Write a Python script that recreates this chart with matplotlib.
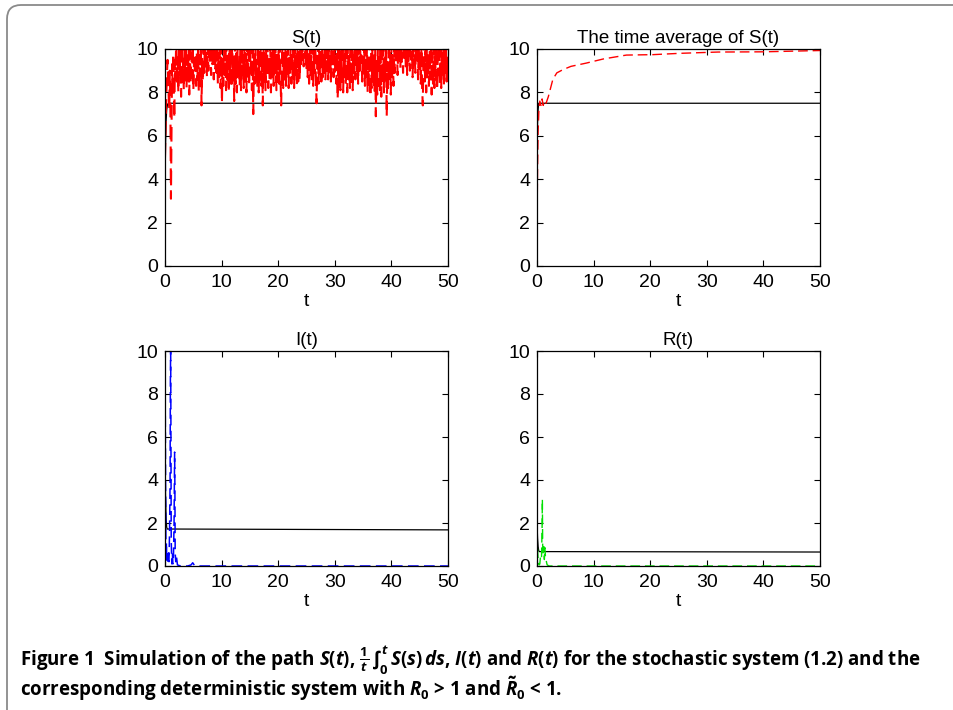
import numpy as np
import matplotlib
matplotlib.use('Agg')
import matplotlib.pyplot as plt
from matplotlib.patches import FancyBboxPatch
from matplotlib.transforms import IdentityTransform

plt.rcParams['font.family'] = ['Liberation Sans', 'DejaVu Sans']
plt.rcParams['mathtext.fontset'] = 'custom'
plt.rcParams['mathtext.rm'] = 'Open Sans:bold'
plt.rcParams['mathtext.it'] = 'Open Sans:italic:bold'
plt.rcParams['mathtext.bf'] = 'Open Sans:bold'

# ---- S(t): stochastic path, first two time units read point by point
s_t_early = [0, 0.05, 0.15, 0.3, 0.45, 0.6, 0.75, 0.85, 0.95, 1.05, 1.15, 1.25,
             1.35, 1.45, 1.55, 1.65, 1.75, 1.85, 1.95]
s_early = [5.0, 5.8, 7.0, 8.6, 9.5, 8.2, 7.2, 9.0, 7.5, 3.1, 6.0, 9.3,
           8.4, 9.8, 8.0, 6.8, 9.5, 8.6, 10.0]
# rest of the path (t = 2 .. 50)
s_rest = [
    10.2, 8.3, 9.6, 8.0, 10.1, 8.8, 9.9, 7.8, 10.3, 8.5, 9.4, 8.1, 10.0, 8.9, 10.2, 8.2, 9.7, 8.6, 10.1, 7.9,
    10.0, 8.4, 9.8, 8.7, 10.2, 8.1, 9.5, 8.9, 10.3, 8.3, 9.9, 8.6, 10.1, 8.0, 9.7, 8.8, 10.2, 7.4, 9.6, 8.5,
    10.1, 8.9, 10.3, 9.2, 9.8, 8.7, 10.2, 9.0, 10.0, 9.4, 10.3, 8.8, 9.9, 9.3, 10.1, 8.6, 10.2, 9.1, 9.7, 8.9,
    10.3, 8.4, 9.8, 8.7, 10.0, 8.2, 10.2, 7.5, 9.6, 8.3, 10.1, 8.8, 9.9, 8.1, 10.3, 8.6, 9.7, 8.0, 10.2, 8.5,
    9.9, 8.2, 10.1, 8.9, 9.6, 7.6, 10.3, 8.4, 9.8, 8.0, 10.2, 8.7, 9.5, 8.3, 10.0, 8.1, 10.3, 8.8, 9.7, 8.2,
    10.1, 8.5, 9.8, 8.0, 10.2, 8.6, 9.9, 8.3, 10.3, 8.9, 9.6, 8.1, 10.0, 7.0, 9.8, 8.4, 10.2, 8.7, 9.5, 8.2,
    10.3, 8.0, 9.9, 8.6, 10.1, 8.3, 9.7, 7.4, 10.2, 8.5, 9.8, 8.1, 10.0, 8.8, 10.3, 8.2, 9.6, 8.6, 10.1, 8.0,
    9.8, 8.7, 10.2, 8.3, 9.9, 8.9, 10.3, 8.1, 9.7, 8.5, 10.0, 8.4, 10.2, 8.8, 7.4, 9.5, 10.1, 8.2, 9.8, 8.6,
    10.3, 8.3, 9.9, 8.7, 10.1, 8.2, 9.6, 8.9, 10.2, 8.4, 9.8, 8.6, 10.0, 8.2, 10.3, 8.8, 9.7, 8.3, 10.1, 8.5,
    9.9, 8.6, 10.2, 9.3, 10.0, 9.5, 10.3, 9.2, 9.8, 9.6, 10.1, 9.0, 10.2, 8.7, 9.9, 8.4, 10.3, 8.8, 9.7, 8.5,
    10.1, 8.3, 9.8, 8.9, 10.2, 8.6, 7.5, 9.6, 10.3, 8.4, 9.9, 8.8, 10.0, 8.5, 10.2, 8.7, 9.7, 8.9, 10.1, 8.6,
    9.9, 9.0, 10.3, 8.6, 10.0, 8.8, 9.8, 8.5, 10.2, 9.1, 9.7, 8.7, 10.1, 8.9, 10.3, 8.4, 9.9, 7.7, 10.0, 8.2,
    10.2, 8.1, 9.8, 8.5, 10.3, 8.0, 9.6, 8.7, 10.1, 8.3, 9.9, 8.0, 10.2, 8.6, 9.7, 8.2, 10.0, 8.4, 10.3, 8.1,
    9.8, 8.9, 10.1, 8.6, 10.3, 9.0, 9.9, 8.4, 10.2, 8.8, 10.0, 9.2, 9.7, 8.5, 10.3, 8.7, 9.9, 8.3, 10.1, 8.6,
    10.2, 8.0, 9.6, 8.4, 10.3, 7.8, 9.9, 8.2, 10.1, 8.5, 9.7, 8.0, 10.2, 6.9, 9.5, 7.9, 10.0, 8.3, 9.8, 8.1,
    10.3, 7.8, 9.9, 8.4, 10.1, 8.0, 9.6, 8.6, 10.2, 6.9, 9.4, 8.2, 10.0, 8.5, 9.8, 7.9, 10.3, 8.7, 9.7, 8.3,
    10.1, 8.9, 10.3, 9.3, 9.9, 8.8, 10.2, 9.5, 10.0, 9.1, 10.3, 9.4, 9.8, 8.9, 10.1, 9.6, 10.2, 9.2, 10.0, 8.8,
    10.3, 9.4, 9.9, 9.0, 10.2, 9.5, 10.0, 8.7, 10.1, 9.3, 9.8, 8.9, 10.3, 9.6, 10.0, 8.6, 10.2, 9.1, 9.7, 8.4,
    10.1, 8.2, 7.4, 9.8, 10.3, 8.5, 9.9, 8.0, 10.2, 8.7, 9.6, 8.3, 10.0, 8.6, 10.3, 7.9, 9.8, 8.4, 10.1, 8.2,
    9.9, 8.6, 10.2, 8.1, 9.7, 8.8, 10.3, 8.4, 10.0, 8.2, 9.8, 8.7, 10.1, 8.3, 9.9, 8.9, 10.2, 8.5, 9.6, 8.4,
]
s_det_t = [0, 0.1, 0.2, 0.3, 0.45, 0.6, 50]
s_det = [4.0, 5.6, 6.7, 7.2, 7.45, 7.5, 7.5]

# ---- time average of S(t)
avg_t = [0, 0.1, 0.2, 0.35, 0.5, 0.7, 0.9, 1.1, 1.3, 1.6, 2.0, 2.8, 3.5, 4.6, 6, 8.7,
         11.7, 15.8, 20.5, 25.2, 32, 40, 45, 50]
avg_s = [2.0, 4.5, 6.2, 7.3, 7.6, 7.4, 7.7, 7.4, 7.6, 7.5, 7.8, 8.6, 8.9, 9.05, 9.2, 9.35,
         9.54, 9.72, 9.74, 9.8, 9.86, 9.87, 9.9, 9.93]
avg_det_t = [0, 0.1, 0.2, 0.3, 50]
avg_det = [5.5, 6.6, 7.2, 7.5, 7.5]

# ---- I(t)
i_t = [0, 0.05, 0.1, 0.15, 0.2, 0.25, 0.3, 0.4, 0.5, 0.6, 0.7, 0.8, 0.9, 0.95, 1.0,
       1.05, 1.1, 1.2, 1.3, 1.4, 1.5, 1.6, 1.7, 1.75, 1.8, 1.9, 2.0, 2.2, 2.5, 3, 4,
       4.6, 4.9, 5.2, 6, 10, 20, 30, 40, 50]
i_s = [5.0, 7.1, 4.0, 1.5, 0.4, 1.1, 0.2, 0.5, 0.1, 0.6, 0.2, 1.5, 4.0, 8.5, 10.3,
       6.0, 1.2, 0.1, 0.6, 0.1, 0.5, 2.0, 5.3, 3.5, 0.6, 0.2, 0.5, 0.05, 0.02, 0.0, 0.0,
       0.05, 0.15, 0.03, 0.0, 0.0, 0.0, 0.0, 0.0, 0.0]
i_det_t = [0, 0.1, 0.2, 0.3, 0.4, 50]
i_det = [5.0, 3.2, 2.2, 1.8, 1.72, 1.68]

# ---- R(t)
r_t = [0, 0.1, 0.2, 0.3, 0.4, 0.5, 0.6, 0.7, 0.8, 0.9, 0.95, 1.0, 1.1, 1.2, 1.3,
       1.4, 1.5, 1.6, 1.7, 1.8, 2.0, 2.2, 2.5, 3, 5, 10, 20, 30, 40, 50]
r_s = [1.5, 0.8, 0.3, 0.1, 0.05, 0.1, 0.4, 0.5, 0.4, 1.8, 3.1, 1.0, 0.5, 0.9, 0.3,
       0.85, 0.4, 0.3, 0.15, 0.05, 0.02, 0.0, 0.0, 0.0, 0.0, 0.0, 0.0, 0.0, 0.0, 0.0]
r_det_t = [0, 0.1, 0.2, 0.3, 0.4, 50]
r_det = [2.0, 1.3, 0.9, 0.72, 0.67, 0.65]

titles = ['S(t)', 'The time average of S(t)', 'I(t)', 'R(t)']

s_t = np.concatenate([s_t_early, np.linspace(2, 50, len(s_rest))])
s_all = np.concatenate([s_early, s_rest])

fig = plt.figure(figsize=(9.54, 7.10), dpi=100)

W, H = 954., 710.
boxes = [(165, 49, 448, 266), (537, 49, 820, 266),
         (165, 351, 448, 566), (537, 351, 820, 566)]
axs = []
for (x0, y0, x1, y1) in boxes:
    ax = fig.add_axes([x0 / W, 1 - y1 / H, (x1 - x0) / W, (y1 - y0) / H])
    axs.append(ax)

dash = (0, (7, 3.5))
series = [
    (s_t, s_all, s_det_t, s_det, 'red', 1.5),
    (avg_t, avg_s, avg_det_t, avg_det, 'red', 1.0),
    (i_t, i_s, i_det_t, i_det, 'blue', 1.1),
    (r_t, r_s, r_det_t, r_det, '#00e000', 1.0),
]
for ax, (tt, yy, td, yd, c, lw), ttl in zip(axs, series, titles):
    ax.plot(td, yd, color='black', lw=0.9)
    ax.plot(tt, yy, color=c, lw=lw, linestyle=dash)
    ax.set_xlim(0, 50)
    ax.set_ylim(0, 10)
    ax.set_xticks([0, 10, 20, 30, 40, 50])
    ax.set_yticks([0, 2, 4, 6, 8, 10])
    ax.tick_params(direction='in', top=True, right=True, length=4, width=0.8,
                   labelsize=14, pad=5)
    ax.tick_params(axis='x', pad=6)
    for sp in ax.spines.values():
        sp.set_linewidth(0.9)
    ax.set_title(ttl, fontsize=13.5, pad=4)
    ax.set_xlabel('t', fontsize=14, labelpad=1)

# rounded frame around the figure
frame = FancyBboxPatch((7, -60), 1100, 765, boxstyle='round,pad=0,rounding_size=14',
                       transform=IdentityTransform(), facecolor='none',
                       edgecolor='#8a8a8a', lw=1.3)
fig.patches.append(frame)

cap1 = (r'Figure 1  Simulation of the path $S(t)$, $\frac{1}{t}\,\int_0^t\, S(s)\,ds$, '
        r'$I(t)$ and $R(t)$ for the stochastic system (1.2) and the')
cap2 = r'corresponding deterministic system with $R_0$ > 1 and $\tilde{R}_0$ < 1.'
fig.text(20 / W, 1 - 660 / H, cap1, fontsize=13.5, fontweight='bold',
         family='Open Sans', va='center', ha='left')
fig.text(20 / W, 1 - 689 / H, cap2, fontsize=13.5, fontweight='bold',
         family='Open Sans', va='center', ha='left')

fig.savefig('out.png', dpi=100)
